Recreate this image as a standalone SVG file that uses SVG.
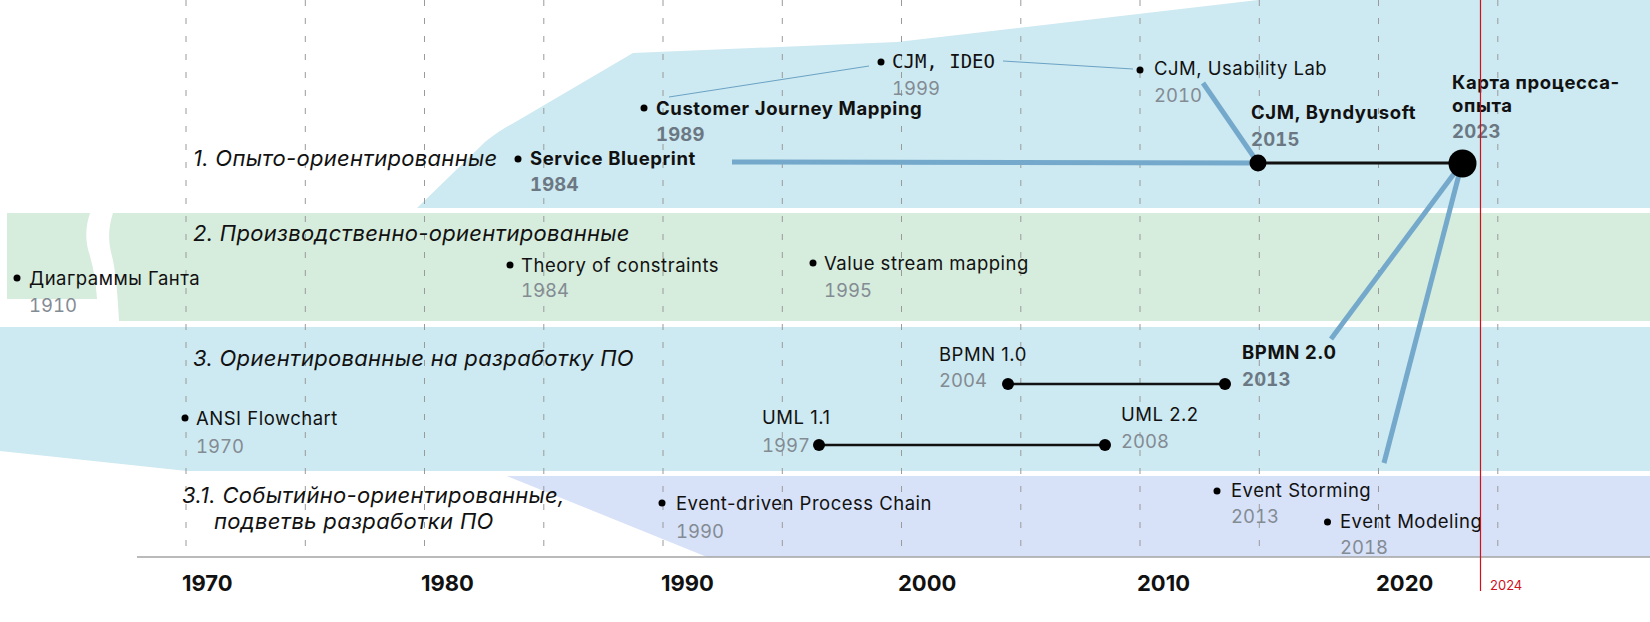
<svg xmlns="http://www.w3.org/2000/svg" width="1650" height="622" viewBox="0 0 1650 622">
<style>
.bg{fill:#ffffff}
.blue{fill:#cde9f1}
.green{fill:#d6ecdd}
.lav{fill:#d7e1f8}
.grid{stroke:#9a9a9a;stroke-width:1;stroke-dasharray:6 12;fill:none}
.axis{stroke:#a3a3a3;stroke-width:1.5}
.t{font-family:Inter,"Noto Sans",sans-serif;font-size:18.5px;letter-spacing:0.5px;fill:#111}
.b{font-weight:700;letter-spacing:0.6px}
.mono{font-family:"DejaVu Sans Mono","Liberation Mono",monospace;font-size:19px;fill:#111}
.yr{font-family:Inter,"Noto Sans",sans-serif;font-size:18.5px;font-variant-numeric:tabular-nums;fill:#838b93}
.yrb{font-family:Inter,"Noto Sans",sans-serif;font-size:18.5px;letter-spacing:0.2px;font-weight:700;font-variant-numeric:tabular-nums;fill:#6b7883}
.h{font-family:Inter,"Noto Sans",sans-serif;font-size:22px;letter-spacing:0.3px;font-style:italic;fill:#111}
.ax{font-family:Inter,"Noto Sans",sans-serif;font-size:22px;font-weight:700;fill:#111}
.conn{stroke:#74a9cb;stroke-width:5;fill:none}
.thin{stroke:#6aa2c4;stroke-width:1;fill:none}
.line{stroke:#111;stroke-width:2.5;fill:none}
.dot{fill:#000}
</style>
<rect class="bg" x="0" y="0" width="1650" height="622"/>
<g id="bands">
<path class="blue" d="M417,208 L485,142 Q500,130 512,124 L633,53 L897,42 L1258,0 L1650,0 L1650,208 Z"/>
<path class="green" d="M7,213 L90,213 C85,228 85,242 90,256 C94,270 96,285 97,299 L7,299 Z"/>
<path class="green" d="M113,213 C108,228 108,242 112,256 C116,272 118,300 119,321 L1650,321 L1650,213 Z"/>
<path class="blue" d="M0,327 L1650,327 L1650,471 L187,471 L0,451 Z"/>
<path class="lav" d="M507,476 L1650,476 L1650,557 L707,557 Z"/>
</g>
<g id="grid">
<line class="grid" x1="186" y1="0" x2="186" y2="557"/>
<line class="grid" x1="305.3" y1="0" x2="305.3" y2="557"/>
<line class="grid" x1="424.5" y1="0" x2="424.5" y2="557"/>
<line class="grid" x1="543.8" y1="0" x2="543.8" y2="557"/>
<line class="grid" x1="663" y1="0" x2="663" y2="557"/>
<line class="grid" x1="782.3" y1="0" x2="782.3" y2="557"/>
<line class="grid" x1="901.5" y1="0" x2="901.5" y2="557"/>
<line class="grid" x1="1020.8" y1="0" x2="1020.8" y2="557"/>
<line class="grid" x1="1140" y1="0" x2="1140" y2="557"/>
<line class="grid" x1="1259.3" y1="0" x2="1259.3" y2="557"/>
<line class="grid" x1="1378.5" y1="0" x2="1378.5" y2="557"/>
<line class="grid" x1="1497.8" y1="0" x2="1497.8" y2="557"/>
<line class="axis" x1="137" y1="557" x2="1650" y2="557"/>
</g>
<g id="axis-labels">
<text class="ax" x="182" y="591">1970</text>
<text class="ax" x="421" y="591">1980</text>
<text class="ax" x="661" y="591">1990</text>
<text class="ax" x="898" y="591">2000</text>
<text class="ax" x="1137" y="591">2010</text>
<text class="ax" x="1376" y="591">2020</text>
</g>
<g id="group-labels">
<text class="h" x="193" y="166">1. Опыто-ориентированные</text>
<text class="h" x="193" y="241">2. Производственно-ориентированные</text>
<text class="h" x="193" y="366">3. Ориентированные на разработку ПО</text>
<text class="h" x="182" y="503">3.1. Событийно-ориентированные,</text>
<text class="h" x="214" y="529">подветвь разработки ПО</text>
</g>
<g id="connectors">
<line class="thin" x1="669" y1="97" x2="869" y2="66"/>
<line class="thin" x1="1003" y1="61" x2="1133" y2="69"/>
<line class="conn" x1="732" y1="162" x2="1258" y2="163"/>
<line class="conn" x1="1203" y1="83" x2="1258" y2="163"/>
<line class="line" x1="1258" y1="163" x2="1462" y2="163" style="stroke-width:3"/>
<line class="conn" x1="1462" y1="163" x2="1331" y2="339"/>
<line class="conn" x1="1462" y1="163" x2="1384" y2="463"/>
<line class="line" x1="1008" y1="384" x2="1225" y2="384"/>
<line class="line" x1="819" y1="445" x2="1105" y2="445"/>
</g>
<g id="gantt"><circle class="dot" cx="17" cy="278" r="3.5"/><text class="t" x="29" y="285">Диаграммы Ганта</text><text class="yr" x="29" y="312">1910</text></g>
<g id="service-blueprint"><circle class="dot" cx="518" cy="159" r="3.5"/><text class="t b" x="530" y="165">Service Blueprint</text><text class="yrb" x="530" y="191">1984</text></g>
<g id="cjm-1989"><circle class="dot" cx="644" cy="108" r="3.5"/><text class="t b" x="656" y="115">Customer Journey Mapping</text><text class="yrb" x="656" y="141">1989</text></g>
<g id="cjm-ideo"><circle class="dot" cx="881" cy="62" r="3.5"/><text class="mono" x="892" y="68">CJM, IDEO</text><text class="yr" x="892" y="95">1999</text></g>
<g id="cjm-usability"><circle class="dot" cx="1140" cy="70" r="3.5"/><text class="t" x="1154" y="75">CJM, Usability Lab</text><text class="yr" x="1154" y="102">2010</text></g>
<g id="cjm-byndyusoft"><circle class="dot" cx="1258" cy="163" r="8.5"/><text class="t b" x="1251" y="119">CJM, Byndyusoft</text><text class="yrb" x="1251" y="146">2015</text></g>
<g id="process-map"><circle class="dot" cx="1462.5" cy="163.5" r="14"/><text class="t b" x="1452" y="89">Карта процесса-</text><text class="t b" x="1452" y="112">опыта</text><text class="yrb" x="1452" y="138">2023</text></g>
<g id="toc"><circle class="dot" cx="510" cy="265" r="3.5"/><text class="t" x="521" y="272">Theory of constraints</text><text class="yr" x="521" y="297">1984</text></g>
<g id="vsm"><circle class="dot" cx="813" cy="263" r="3.5"/><text class="t" x="824" y="270">Value stream mapping</text><text class="yr" x="824" y="297">1995</text></g>
<g id="ansi"><circle class="dot" cx="185" cy="418" r="3.5"/><text class="t" x="196" y="425">ANSI Flowchart</text><text class="yr" x="196" y="453">1970</text></g>
<g id="bpmn1"><circle class="dot" cx="1008" cy="384" r="6"/><text class="t" x="939" y="361">BPMN 1.0</text><text class="yr" x="939" y="387">2004</text></g>
<g id="bpmn2"><circle class="dot" cx="1225" cy="384" r="6"/><text class="t b" x="1242" y="359">BPMN 2.0</text><text class="yrb" x="1242" y="386">2013</text></g>
<g id="uml11"><circle class="dot" cx="819" cy="445" r="6"/><text class="t" x="762" y="424">UML 1.1</text><text class="yr" x="762" y="452">1997</text></g>
<g id="uml22"><circle class="dot" cx="1105" cy="445" r="6"/><text class="t" x="1121" y="421">UML 2.2</text><text class="yr" x="1121" y="448">2008</text></g>
<g id="epc"><circle class="dot" cx="662" cy="503" r="3.5"/><text class="t" x="676" y="510">Event-driven Process Chain</text><text class="yr" x="676" y="538">1990</text></g>
<g id="event-storming"><circle class="dot" cx="1217" cy="491" r="3.5"/><text class="t" x="1231" y="497">Event Storming</text><text class="yr" x="1231" y="523">2013</text></g>
<g id="event-modeling"><circle class="dot" cx="1327.5" cy="522" r="3.5"/><text class="t" x="1340" y="528">Event Modeling</text><text class="yr" x="1340" y="554">2018</text></g>
<g id="today">
<line x1="1480.5" y1="0" x2="1480.5" y2="591" stroke="#d0101a" stroke-width="1.2"/>
<text x="1490" y="590" font-family="Inter,'Noto Sans',sans-serif" font-size="13" fill="#d0101a">2024</text>
</g>
</svg>
